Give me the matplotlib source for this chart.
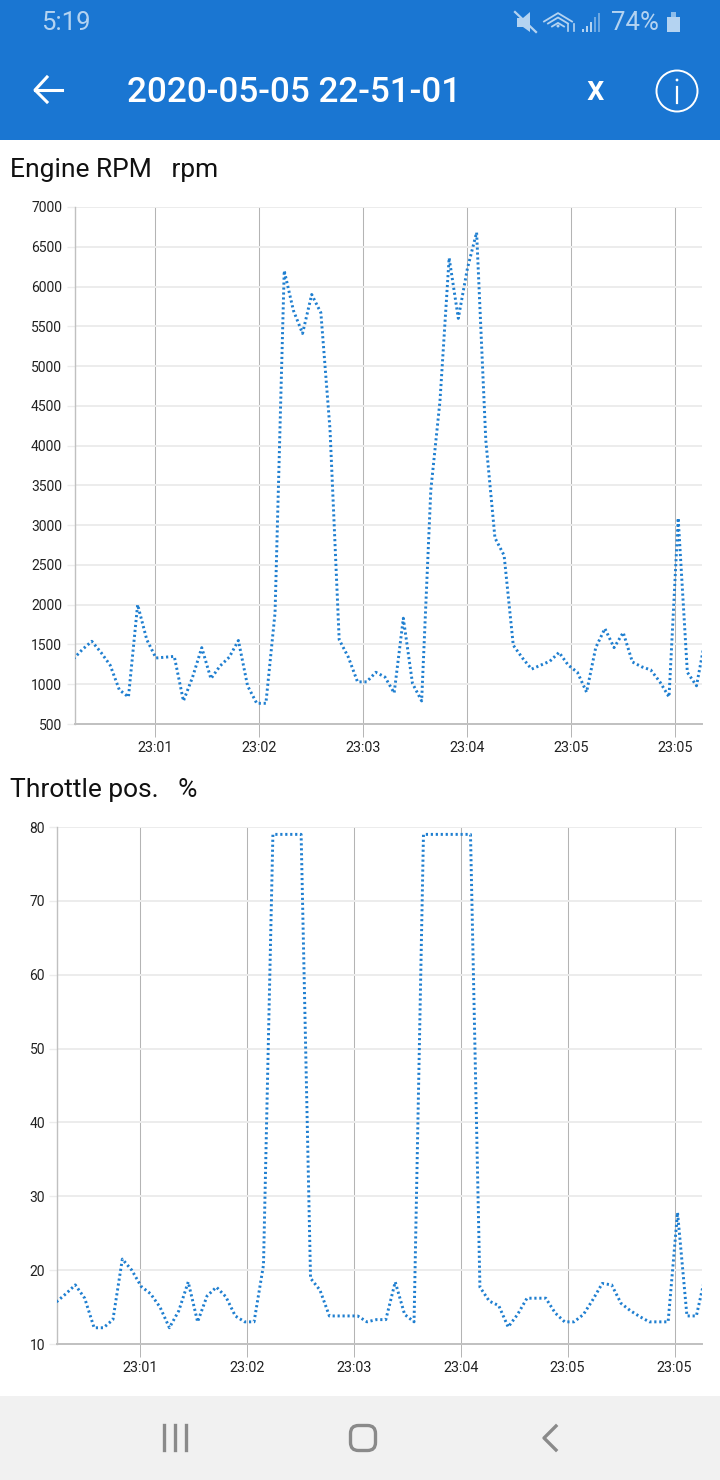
import matplotlib
matplotlib.use("Agg")
import matplotlib.pyplot as plt
from matplotlib.patches import Rectangle, Circle, Polygon, FancyBboxPatch

plt.rcParams['font.family'] = ['Roboto', 'DejaVu Sans']

# ---------- data ----------
sample_seconds = [5 * i for i in [
    0, 1, 2, 3, 4, 5, 6, 7, 8, 9, 10, 11, 12, 13, 14, 15, 16, 17, 18, 19, 20, 21, 22, 23,
    24, 25, 26, 27, 28, 29, 30, 31, 32, 33, 34, 35, 36, 37, 38, 39, 40, 41, 42, 43, 44, 45,
    46, 47, 48, 49, 50, 51, 52, 53, 54, 55, 56, 57, 58, 59, 60, 61, 62, 63, 64, 65, 66, 67, 68, 69]]

engine_rpm = [1320, 1440, 1540, 1400, 1240, 930, 840, 2000, 1560, 1330,
              1340, 1350, 790, 1090, 1460, 1070, 1230, 1340, 1550, 980,
              760, 760, 1900, 6200, 5700, 5410, 5900, 5670, 4200, 1560,
              1340, 1030, 1030, 1150, 1090, 890, 1830, 1010, 790, 3440,
              4560, 6360, 5600, 6230, 6680, 4070, 2840, 2620, 1490, 1330,
              1190, 1240, 1290, 1400, 1240, 1150, 900, 1460, 1700, 1460,
              1650, 1280, 1220, 1180, 1030, 840, 3090, 1150, 980, 1600]

throttle_pos = [15.7, 16.8, 18.0, 16.2, 12.2, 12.2, 13.3, 21.5, 20.0, 17.8,
                16.8, 15.0, 12.2, 14.5, 18.4, 13.0, 16.5, 17.7, 16.4, 13.8,
                13.0, 13.0, 20.7, 79.0, 79.0, 79.0, 79.0, 18.9, 17.3, 13.8,
                13.8, 13.8, 13.8, 13.0, 13.3, 13.3, 18.4, 14.0, 13.0, 79.0,
                79.0, 79.0, 79.0, 79.0, 79.0, 17.7, 15.8, 15.2, 12.3, 14.0,
                16.2, 16.2, 16.2, 14.2, 13.0, 13.0, 14.0, 16.0, 18.2, 18.0,
                15.5, 14.5, 13.7, 13.0, 13.0, 13.0, 27.8, 13.8, 13.8, 19.5]

tick_seconds = [44.5, 101.3, 158.1, 214.8, 271.6, 328.4]
tick_labels = ["23:01", "23:02", "23:03", "23:04", "23:05", "23:05"]
rpm_ticks = [500, 1000, 1500, 2000, 2500, 3000, 3500, 4000, 4500, 5000, 5500, 6000, 6500, 7000]
throttle_ticks = [10, 20, 30, 40, 50, 60, 70, 80]

W, H = 720, 1480
fig = plt.figure(figsize=(W / 100, H / 100), dpi=100, facecolor="white")

LINE = "#1f7fd0"
GRID = "#ececec"
VERT = "#b4b4b4"
AXIS = "#c0c0c0"


def chart(box, ticks, values, ylim):
    l, t, r, b = box
    ax = fig.add_axes([l / W, 1 - b / H, (r - l) / W, (b - t) / H])
    ax.set_xlim(0.55, 343.0)
    ax.set_ylim(*ylim)
    ax.set_yticks(ticks)
    ax.set_xticks(tick_seconds)
    ax.set_xticklabels(tick_labels)
    ax.tick_params(axis="y", length=6, width=1, color=GRID, labelsize=10, pad=3, labelcolor="#222222")
    ax.tick_params(axis="x", length=9, width=0.7, color=VERT, labelsize=10.4, pad=3, labelcolor="#222222")
    ax.grid(axis="y", color=GRID, lw=1.4, zorder=1)
    ax.grid(axis="x", color=VERT, lw=0.75, zorder=1)
    ax.set_axisbelow(True)
    for s in ("top", "right"):
        ax.spines[s].set_visible(False)
    ax.spines["left"].set_color(AXIS)
    ax.spines["left"].set_linewidth(1.0)
    ax.spines["bottom"].set_color(AXIS)
    ax.spines["bottom"].set_linewidth(1.4)
    ax.plot(sample_seconds, values, color=LINE, lw=2.1, dashes=(0.75, 0.95), zorder=3,
            dash_capstyle="butt", dash_joinstyle="round")
    return ax


chart((74.5, 207, 702, 724), rpm_ticks, engine_rpm, (500, 7000))
chart((57.5, 827, 702, 1344), throttle_ticks, throttle_pos, (10, 80))

# ---------- app chrome, drawn in pixel coordinates ----------
ov = fig.add_axes([0, 0, 1, 1], zorder=10)
ov.set_xlim(0, W)
ov.set_ylim(H, 0)
ov.axis("off")
ov.patch.set_alpha(0)

BLUE = "#1a76d2"
PALE = "#b4d3f1"
ov.add_patch(Rectangle((0, 0), W, 140, fc=BLUE, ec="none"))
ov.add_patch(Rectangle((0, 1396), W, 84, fc="#f1f1f1", ec="none"))

ov.text(41, 22.5, "5:19", color=PALE, fontsize=18.5, va="center", ha="left")
ov.text(611, 22.5, "74%", color=PALE, fontsize=18.5, va="center", ha="left")
ov.text(127, 92.5, "2020-05-05 22-51-01", color="white", fontsize=25.3, fontweight="medium",
        va="center", ha="left")
ov.text(595, 91, "x", color="white", fontsize=25, fontweight="medium", va="center", ha="center")
ov.text(9.5, 170, "Engine RPM   rpm", color="#111111", fontsize=19, va="center", ha="left")
ov.text(9.5, 790, "Throttle pos.   %", color="#111111", fontsize=19, va="center", ha="left")

# back arrow
ov.plot([62, 35], [90, 90], color="white", lw=2.2)
ov.plot([47, 35, 47], [77, 90, 102], color="white", lw=2.2)
# info button
ov.add_patch(Circle((677, 91), 20.5, fc="none", ec="white", lw=1.4))
ov.plot([677, 677], [87, 103], color="white", lw=1.6)
ov.add_patch(Circle((677, 80), 1.4, fc="white", ec="none"))
# status icons
ov.add_patch(Polygon([(517, 18), (523, 18), (530, 12), (530, 32), (523, 27), (517, 27)], fc=PALE, ec="none"))
ov.plot([515, 536], [12, 32], color=PALE, lw=1.6)
for r, y in ((14, 25), (10, 26), (6, 28)):
    ov.plot([558 - r, 558, 558 + r], [y - r * 0.25, y - r * 0.85, y - r * 0.25], color=PALE, lw=1.3)
ov.add_patch(Circle((558, 26), 1.5, fc=PALE, ec="none"))
ov.plot([568, 568], [24, 31], color=PALE, lw=1.2)
ov.plot([574, 574], [24, 31], color=PALE, lw=1.2)
for x, top, col in ((583, 29, PALE), (587, 26, PALE), (591, 22, PALE), (595, 17, "#6da8e2"), (599, 13, "#6da8e2")):
    ov.add_patch(Rectangle((x - 1.2 - 0, top), 2.4, 32 - top, fc=col, ec="none"))
ov.add_patch(Rectangle((667, 17), 13, 15, fc=PALE, ec="none"))
ov.add_patch(Rectangle((671, 12), 5, 5, fc="#8dbce9", ec="none"))
# navigation bar
for x in (164, 175, 186):
    ov.plot([x, x], [1425, 1450], color="#8a8a8a", lw=2.4)
ov.add_patch(FancyBboxPatch((350.5, 1425.5), 25, 25, boxstyle="round,pad=0,rounding_size=8",
                            fc="none", ec="#8a8a8a", lw=2.4))
ov.plot([556, 544, 556], [1426, 1438, 1450], color="#8a8a8a", lw=2.4)

fig.savefig("out.png", dpi=100)
